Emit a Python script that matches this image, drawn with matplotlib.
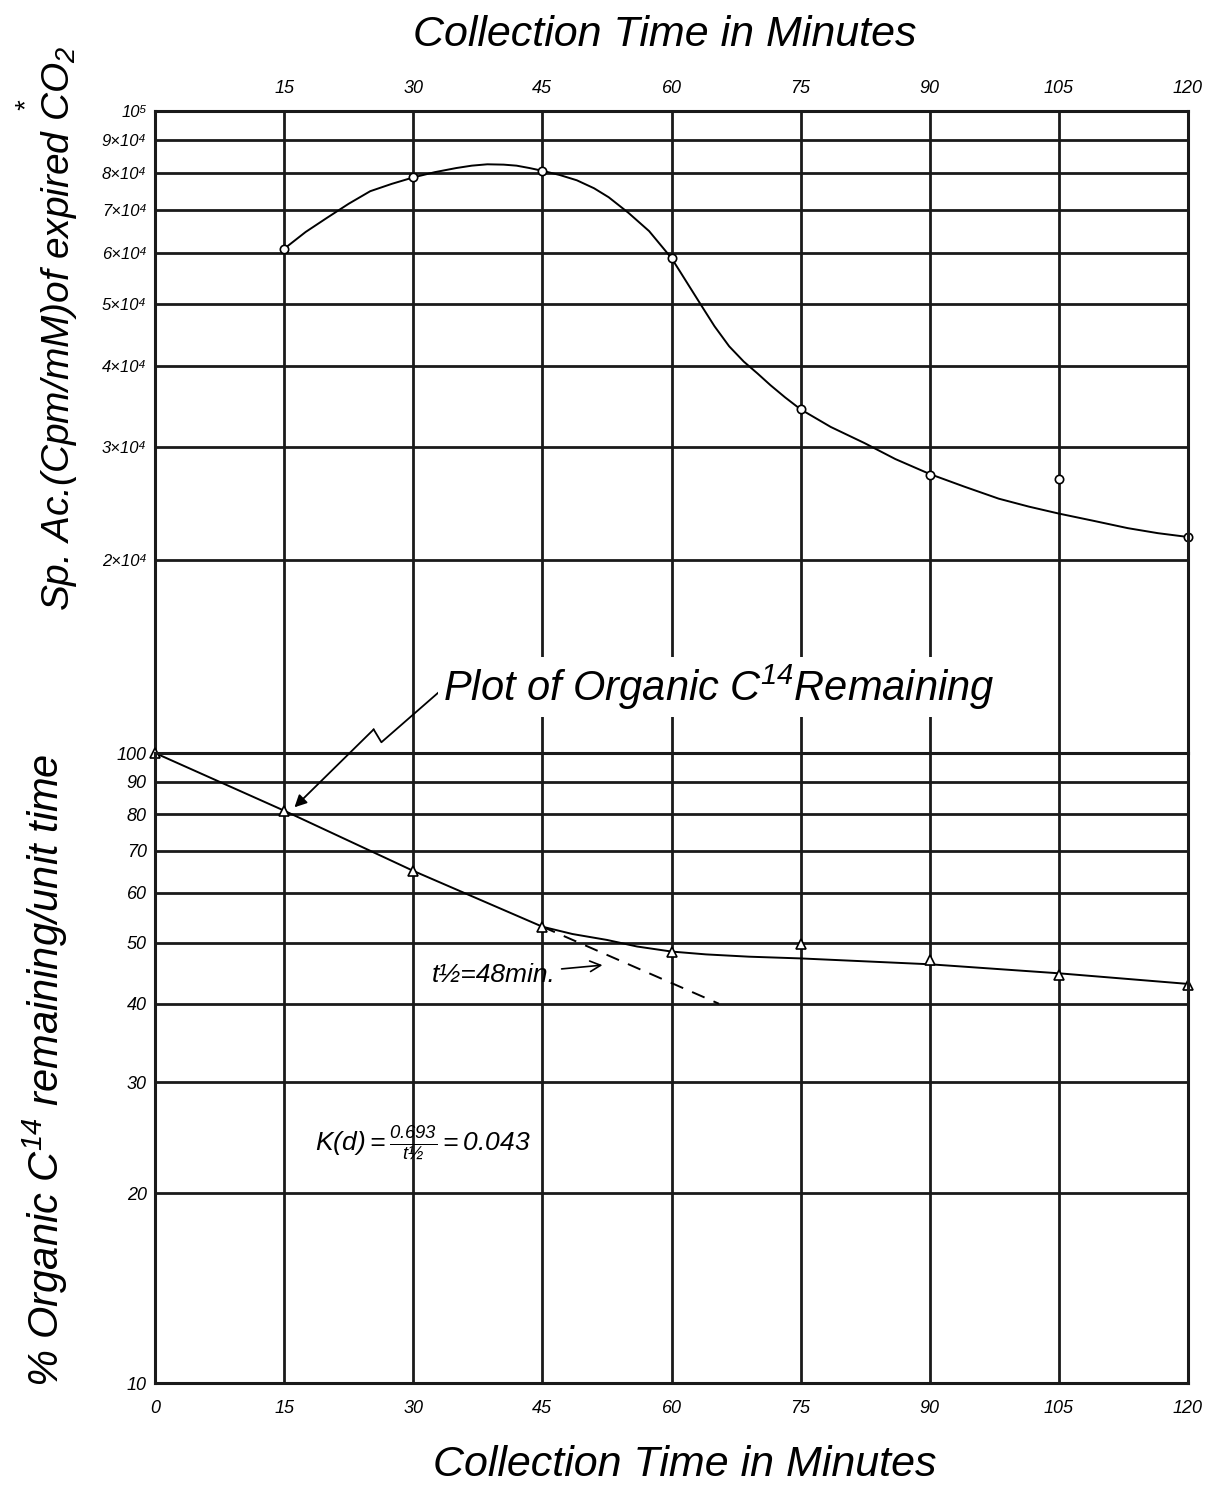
import matplotlib
matplotlib.use("Agg")
import matplotlib.pyplot as plt
from matplotlib.ticker import NullLocator

plt.rcParams['font.family'] = ['Liberation Sans', 'DejaVu Sans']
plt.rcParams['font.style'] = 'italic'
plt.rcParams['mathtext.fontset'] = 'custom'
plt.rcParams['mathtext.it'] = 'Liberation Sans:italic'
plt.rcParams['mathtext.rm'] = 'Liberation Sans:italic'
plt.rcParams['mathtext.default'] = 'it'

# --- données ---
x_ticks = [0, 15, 30, 45, 60, 75, 90, 105, 120]

# activité spécifique du CO2 expiré (cpm/mM)
sp_t = [15, 30, 45, 60, 75, 90, 105, 120]
sp_act = [6.1e4, 7.9e4, 8.05e4, 5.9e4, 3.43e4, 2.71e4, 2.67e4, 2.17e4]
# courbe tracée à la main, relevée le long du tracé
sp_curve_t = [15, 17.5, 20, 22.5, 25, 27.5, 30, 32.5, 35, 36.8, 38.6, 40.5, 42,
              43.5, 45, 47, 49, 51, 52.7, 55, 57.4, 60, 61, 62, 63.5, 65, 66.7,
              68.4, 70, 71.5, 73.2, 75, 78.5, 82.4, 86, 90, 94, 98, 101.5, 105,
              109, 113, 116.5, 120]
sp_curve = [6.1e4, 6.48e4, 6.82e4, 7.17e4, 7.5e4, 7.7e4, 7.88e4, 8.03e4, 8.15e4,
            8.22e4, 8.26e4, 8.25e4, 8.22e4, 8.15e4, 8.07e4, 7.95e4, 7.8e4, 7.58e4,
            7.34e4, 6.94e4, 6.5e4, 5.9e4, 5.62e4, 5.35e4, 4.97e4, 4.62e4, 4.3e4,
            4.07e4, 3.9e4, 3.74e4, 3.58e4, 3.43e4, 3.22e4, 3.04e4, 2.87e4, 2.72e4,
            2.6e4, 2.49e4, 2.42e4, 2.36e4, 2.3e4, 2.24e4, 2.2e4, 2.17e4]
sp_ticks = [2e4, 3e4, 4e4, 5e4, 6e4, 7e4, 8e4, 9e4, 1e5]
sp_labels = ['2×10⁴', '3×10⁴', '4×10⁴', '5×10⁴', '6×10⁴', '7×10⁴', '8×10⁴', '9×10⁴', '10⁵']

# % de C14 organique restant
org_t = [0, 15, 30, 45, 60, 75, 90, 105, 120]
org_pct = [100, 81, 65, 53, 48.3, 49.8, 47, 44.5, 42.9]
org_curve_t = [0, 15, 30, 45, 48.5, 52.5, 56, 60, 64, 69, 75, 90, 105, 120]
org_curve = [100, 81, 65, 53, 51.6, 50.5, 49.3, 48.4, 47.9, 47.5, 47.2, 46.2, 44.7, 43.0]
half_t = [45, 65.5]
half_pct = [53, 40]
pct_ticks = [10, 20, 30, 40, 50, 60, 70, 80, 90, 100]

W, H = 1231, 1492
x0, x1 = 155, 1188
y_top, y_mid, y_bot = 111, 753, 1383

fig = plt.figure(figsize=(W / 100, H / 100), dpi=100)
ax_top = fig.add_axes([x0 / W, 1 - y_mid / H, (x1 - x0) / W, (y_mid - y_top) / H])
ax_bot = fig.add_axes([x0 / W, 1 - y_bot / H, (x1 - x0) / W, (y_bot - y_mid) / H])

grid_kw = dict(color='#1a1a1a', linewidth=2.0)

for ax in (ax_top, ax_bot):
    ax.set_yscale('log')
    ax.set_xlim(0, 120)
    ax.yaxis.set_minor_locator(NullLocator())
    ax.tick_params(length=0, labelsize=13)
    ax.grid(True, **grid_kw)
    ax.set_axisbelow(True)
    for s in ax.spines.values():
        s.set_linewidth(2.2)
        s.set_color('#1a1a1a')

# panneau du haut
ax_top.set_ylim(1e4, 1e5)
ax_top.spines['bottom'].set_visible(False)
ax_top.set_yticks(sp_ticks)
ax_top.set_yticklabels(sp_labels, fontsize=12)
ax_top.xaxis.tick_top()
ax_top.set_xticks(x_ticks[1:])
ax_top.set_xticklabels([str(t) for t in x_ticks[1:]])
ax_top.tick_params(axis='x', pad=10)
ax_top.tick_params(axis='y', pad=6)
ax_top.plot(sp_curve_t, sp_curve, color='black', lw=1.4, clip_on=False)
ax_top.plot(sp_t, sp_act, 'o', ms=6, mfc='white', mec='black', mew=1.2, clip_on=False)

# panneau du bas
ax_bot.set_ylim(10, 100)
ax_bot.set_yticks(pct_ticks)
ax_bot.set_yticklabels([str(p) for p in pct_ticks], fontsize=13)
ax_bot.set_xticks(x_ticks)
ax_bot.set_xticklabels([str(t) for t in x_ticks])
ax_bot.tick_params(axis='x', pad=12)
ax_bot.tick_params(axis='y', pad=6)
ax_bot.plot(org_curve_t, org_curve, color='black', lw=1.4, clip_on=False)
ax_bot.plot(half_t, half_pct, color='black', lw=1.4, ls=(0, (7, 5)))
ax_bot.plot(org_t, org_pct, '^', ms=7, mfc='white', mec='black', mew=1.2, clip_on=False)

# annotation en éclair
ax_bot.plot([33.0, 26.3, 25.4], [125, 104, 109], color='black', lw=1.3, clip_on=False)
ax_bot.annotate('', xy=(16.2, 82), xytext=(25.4, 109), annotation_clip=False,
                arrowprops=dict(arrowstyle='-|>', color='black', lw=1.3,
                                mutation_scale=18, shrinkA=0, shrinkB=0))
ax_bot.text(33.5, 121, r'Plot of Organic C$^{14}$Remaining', fontsize=30,
            ha='left', va='baseline', clip_on=False,
            bbox=dict(facecolor='white', edgecolor='none', pad=4))

ax_bot.annotate('t½=48min.', xy=(52.3, 46.1), xytext=(32.2, 44.4),
                fontsize=19, ha='left', va='center',
                arrowprops=dict(arrowstyle='->', color='black', lw=1.2))
ax_bot.text(18.6, 24.0, r'$K(d)=\frac{0.693}{t½}=0.043$', fontsize=19,
            ha='left', va='center')

# titres
fig.text(0.540, 1 - 35 / H, 'Collection Time in Minutes', fontsize=31,
         ha='center', va='center')
fig.text(0.556, 1 - 1465 / H, 'Collection Time in Minutes', fontsize=31,
         ha='center', va='center')
fig.text(47 / W, 1 - 328 / H, r'Sp. Ac.(Cpm/mM)of expired $\overset{*}{C}O_2$',
         fontsize=28, rotation=90, ha='center', va='center')
fig.text(45 / W, 1 - 1070 / H, r'% Organic C$^{14}$ remaining/unit time',
         fontsize=30, rotation=90, ha='center', va='center')

fig.savefig('out.png', dpi=100)
